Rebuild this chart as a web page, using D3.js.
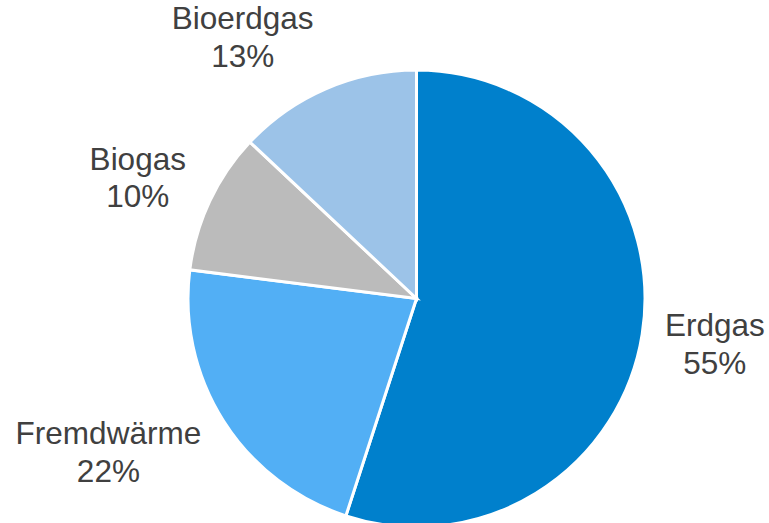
<!DOCTYPE html>
<html>
<head>
<meta charset="utf-8">
<script src="https://cdn.jsdelivr.net/npm/d3@7"></script>
<style>
  html, body { margin: 0; padding: 0; background: #fff; }
  svg { display: block; }
  .label { font-family: "Liberation Sans", Arial, sans-serif; font-size: 31.5px; fill: #404040; }
</style>
</head>
<body>
<svg class="pie" width="769" height="523"></svg>
<script>
(function () {

    'use strict';

    var categories = ["Erdgas", "Fremdwärme", "Biogas", "Bioerdgas"];
    var shares = [55, 22, 10, 13];
    var colors = ["#0080cc", "#52aff5", "#bbbbbb", "#9cc3e8"];

    var svg = d3.select("svg.pie"),
        width = +svg.attr("width"),
        height = +svg.attr("height");

    var cx = 416.5, cy = 298.5, radius = 228.5;

    var data = categories.map(function (c, i) {
        return { name: c, value: shares[i], color: colors[i] };
    });

    var pie = d3.pie()
        .sort(null)
        .value(function (d) { return d.value; });

    var arc = d3.arc()
        .innerRadius(0)
        .outerRadius(radius);

    var g = svg.append("g")
        .attr("transform", "translate(" + cx + "," + cy + ")");

    var arcs = pie(data);

    g.selectAll("path")
        .data(arcs)
        .enter().append("path")
        .attr("d", arc)
        .attr("fill", function (d) { return d.data.color; })
        .attr("stroke", "#fff")
        .attr("stroke-width", 3)
        .attr("stroke-linejoin", "miter");

    // labels outside, excel style
    var gap = 23;
    var labels = g.selectAll("text.label")
        .data(arcs)
        .enter().append("text")
        .attr("class", "label")
        .attr("text-anchor", "middle");

    labels.append("tspan")
        .attr("x", 0)
        .attr("dy", 0)
        .text(function (d) { return d.data.name; });
    labels.append("tspan")
        .attr("x", 0)
        .attr("dy", 37.5)
        .text(function (d) { return d.data.value + "%"; });

    labels.each(function (d) {
        var t = d3.select(this);
        var bb = this.getBBox();
        var w = bb.width, h = 68;
        var mid = (d.startAngle + d.endAngle) / 2;
        var dx = Math.sin(mid), dy = -Math.cos(mid);
        var px = dx * (radius + gap), py = dy * (radius + gap);
        // wide labels on the left side get pushed out a bit further
        var lx = px + (dx >= 0 ? 1 : -1) * (w / 2 + (dx < 0 ? 3 : 0));
        var ly = py + dy * h / 2;
        // first baseline sits ~ 7px above box center
        t.attr("transform", "translate(" + lx + "," + (ly - 7) + ")");
    });

})();
</script>
</body>
</html>
